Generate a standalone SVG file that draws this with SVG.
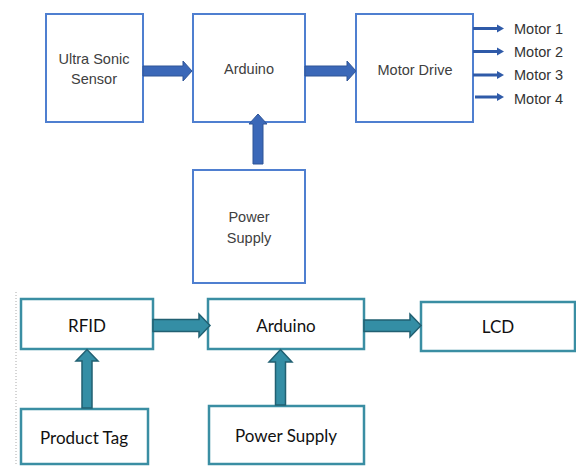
<svg xmlns="http://www.w3.org/2000/svg" width="576" height="466" viewBox="0 0 576 466">
<style>
.bbox{fill:#fff;stroke:#4f7fd0;stroke-width:2}
.tbox{fill:#fff;stroke:#3a8ea3;stroke-width:2.5}
.barrow{fill:#3b68b8;stroke:#2f5597;stroke-width:1}
.tarrow{fill:#348ea5;stroke:#216072;stroke-width:1.5}
.mline{stroke:#2f5aa8;stroke-width:3}
.mhead{fill:#2f5aa8}
.tt{font-family:"Liberation Sans",Arial,sans-serif;font-size:14.5px;fill:#404040;text-anchor:middle;dominant-baseline:central}
.ml{font-family:"Liberation Sans",Arial,sans-serif;font-size:14.5px;fill:#333;dominant-baseline:central}
.bt{font-family:Lato,"Open Sans",sans-serif;font-size:17px;fill:#111;text-anchor:middle;dominant-baseline:central}
</style>
<rect width="576" height="466" fill="#fff"/>
<line x1="16" y1="292" x2="16" y2="466" stroke="#aaa" stroke-width="1" stroke-dasharray="1,2"/>

<g id="ultrasonic"><rect class="bbox" x="46" y="14" width="97" height="108"/><text class="tt" x="94" y="59">Ultra Sonic</text><text class="tt" x="94" y="79">Sensor</text></g>
<g id="arduino1"><rect class="bbox" x="193" y="14" width="112" height="108"/><text class="tt" x="249" y="69">Arduino</text></g>
<g id="motordrive"><rect class="bbox" x="356" y="14" width="117" height="108"/><text class="tt" x="415" y="70">Motor Drive</text></g>
<g id="power1"><rect class="bbox" x="193" y="170" width="112" height="113"/><text class="tt" x="249" y="217">Power</text><text class="tt" x="249" y="238">Supply</text></g>
<g id="motor1"><text class="ml" x="514" y="29">Motor 1</text></g>
<g id="motor2"><text class="ml" x="514" y="52">Motor 2</text></g>
<g id="motor3"><text class="ml" x="514" y="75">Motor 3</text></g>
<g id="motor4"><text class="ml" x="514" y="99">Motor 4</text></g>

<g id="rfid"><rect class="tbox" x="21" y="299" width="132" height="50"/><text class="bt" x="87" y="325">RFID</text></g>
<g id="arduino2"><rect class="tbox" x="208" y="299" width="156" height="50"/><text class="bt" x="286" y="325">Arduino</text></g>
<g id="lcd"><rect class="tbox" x="421" y="302" width="154" height="49"/><text class="bt" x="498" y="326">LCD</text></g>
<g id="producttag"><rect class="tbox" x="21" y="409" width="127" height="55"/><text class="bt" x="84" y="437">Product Tag</text></g>
<g id="power2"><rect class="tbox" x="209" y="406" width="155" height="58"/><text class="bt" x="286" y="435">Power Supply</text></g>

<g id="connectors">
<polygon class="barrow" points="143,66 183,66 183,61 192,71 183,81 183,76 143,76"/>
<polygon class="barrow" points="305,66 347,66 347,61 356,71 347,81 347,76 305,76"/>
<polygon class="barrow" points="253,164 253,124 249,124 258,114 267,124 263,124 263,164"/>
<line class="mline" x1="473" y1="28.5" x2="498" y2="28.5"/><polygon class="mhead" points="497,24.5 504,28.5 497,32.5"/>
<line class="mline" x1="473" y1="51.5" x2="498" y2="51.5"/><polygon class="mhead" points="497,47.5 504,51.5 497,55.5"/>
<line class="mline" x1="473" y1="75" x2="498" y2="75"/><polygon class="mhead" points="497,71 504,75 497,79"/>
<line class="mline" x1="475" y1="97" x2="498" y2="97"/><polygon class="mhead" points="497,93 504,97 497,101"/>
<polygon class="tarrow" points="153,319.5 199,319.5 199,314 210,325.5 199,337 199,331.5 153,331.5"/>
<polygon class="tarrow" points="364,320 410,320 410,314 421,325.5 410,337 410,331.5 364,331.5"/>
<polygon class="tarrow" points="82,408 82,361 76,361 87,349.5 98,361 92,361 92,408"/>
<polygon class="tarrow" points="275.5,405 275.5,362 269,362 280.5,349.5 292,362 285.5,362 285.5,405"/>
</g>
</svg>
